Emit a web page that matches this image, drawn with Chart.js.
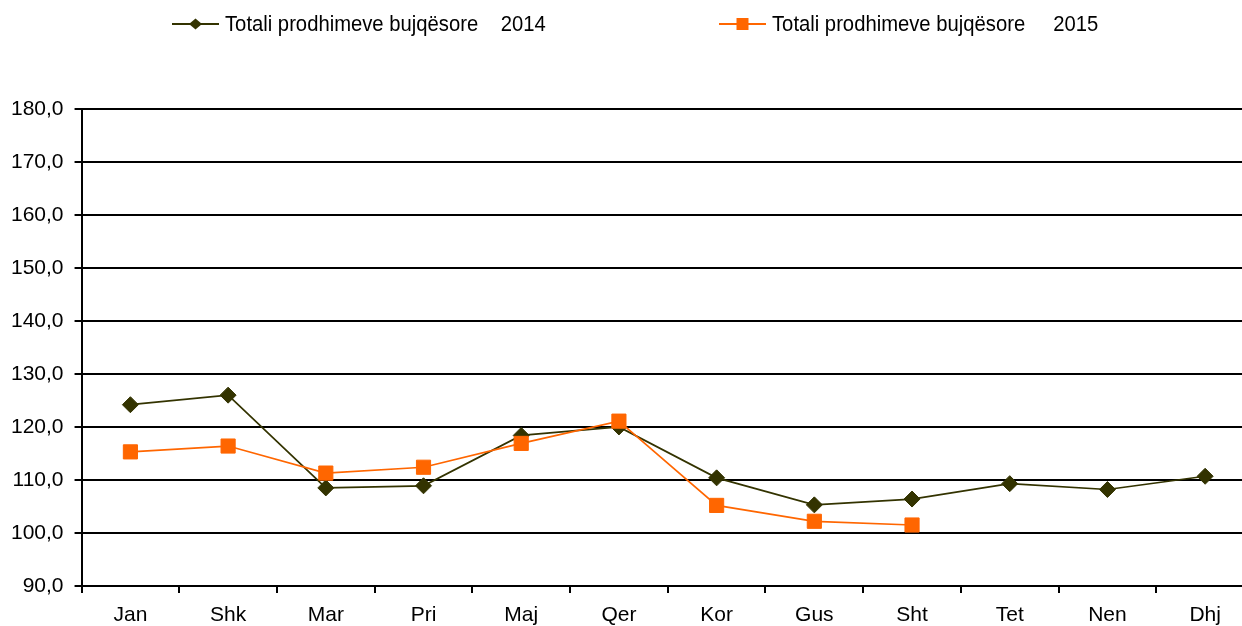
<!DOCTYPE html>
<html>
<head>
<meta charset="utf-8">
<script src="https://cdn.jsdelivr.net/npm/chart.js@4/dist/chart.umd.min.js"></script>
<style>
    html, body {
        margin: 0;
        padding: 0;
        background: #ffffff;
        overflow: hidden;
    }
    /* a bit larger than the window: the original plot is cut at the right and bottom */
    #wrap {
        position: relative;
        width: 1254px;
        height: 637px;
    }
</style>
</head>
<body>
<div id="wrap"><canvas id="chart"></canvas></div>
<script>
    "use strict";

    let months = ['Jan', 'Shk', 'Mar', 'Pri', 'Maj', 'Qer', 'Kor', 'Gus', 'Sht', 'Tet', 'Nen', 'Dhj'];
    let values2014 = [124.2, 126.0, 108.5, 108.9, 118.4, 120.0, 110.4, 105.3, 106.4, 109.3, 108.2, 110.7];
    let values2015 = [115.3, 116.4, 111.3, 112.4, 116.9, 121.1, 105.2, 102.2, 101.5, null, null, null];
    let label2014 = 'Totali prodhimeve bujqësore    2014';
    let label2015 = 'Totali prodhimeve bujqësore     2015';
    let yMin = 90;
    let yMax = 180;
    let yStep = 10;

    let font = 'Liberation Sans, Arial, sans-serif';

    // legend with line + marker, like the original spreadsheet chart
    let lineLegend = {
        id: 'lineLegend',
        afterDraw(chart) {
            let ctx = chart.ctx;
            let starts = [172, 719];
            let y = 24;

            chart.data.datasets.forEach((ds, i) => {
                let x = starts[i];
                ctx.save();
                ctx.strokeStyle = ds.borderColor;
                ctx.lineWidth = 2;
                ctx.beginPath();
                ctx.moveTo(x, y);
                ctx.lineTo(x + 47, y);
                ctx.stroke();

                ctx.fillStyle = ds.pointBackgroundColor;
                let cx = x + 23.5;
                ctx.beginPath();
                if (ds.pointStyle === 'rect') {
                    ctx.rect(cx - 6, y - 6, 12, 12);
                } else {
                    ctx.moveTo(cx, y - 5.5);
                    ctx.lineTo(cx + 6.5, y);
                    ctx.lineTo(cx, y + 5.5);
                    ctx.lineTo(cx - 6.5, y);
                    ctx.closePath();
                }
                ctx.fill();

                // the original text is a bit condensed
                ctx.translate(x + 53, y + 1);
                ctx.scale(0.92, 1);
                ctx.fillStyle = '#000000';
                ctx.font = '22px ' + font;
                ctx.textBaseline = 'middle';
                ctx.textAlign = 'left';
                ctx.fillText(ds.label, 0, 0);
                ctx.restore();
            });
        }
    };

    new Chart(document.getElementById('chart'), {
        type: 'line',
        data: {
            labels: months,
            datasets: [
                {
                    label: label2014,
                    data: values2014,
                    borderColor: '#333300',
                    backgroundColor: '#333300',
                    borderWidth: 1.7,
                    pointStyle: 'rectRot',
                    pointRadius: 8,
                    pointBackgroundColor: '#333300',
                    pointBorderColor: '#333300',
                    pointBorderWidth: 1,
                    tension: 0,
                    order: 1,
                },
                {
                    label: label2015,
                    data: values2015,
                    borderColor: '#ff6600',
                    backgroundColor: '#ff6600',
                    borderWidth: 1.7,
                    pointStyle: 'rect',
                    pointRadius: 10,
                    pointBackgroundColor: '#ff6600',
                    pointBorderColor: '#ff6600',
                    pointBorderWidth: 1,
                    tension: 0,
                    spanGaps: false,
                    order: 0,
                },
            ],
        },
        options: {
            responsive: true,
            maintainAspectRatio: false,
            animation: false,
            layout: {
                autoPadding: false,
                padding: {
                    top: 109,
                    left: 0,
                    right: 0,
                    bottom: 0,
                },
            },
            plugins: {
                legend: {
                    display: false,
                },
                tooltip: {
                    enabled: false,
                },
            },
            scales: {
                x: {
                    offset: true,
                    border: {
                        color: '#000000',
                        width: 2,
                    },
                    grid: {
                        offset: true,
                        drawOnChartArea: false,
                        drawTicks: true,
                        tickLength: 7,
                        color: '#000000',
                        lineWidth: 2,
                    },
                    ticks: {
                        color: '#000000',
                        padding: 11,
                        maxRotation: 0,
                        autoSkip: false,
                        font: {
                            family: font,
                            size: 21,
                            lineHeight: 1.05,
                        },
                    },
                },
                y: {
                    min: yMin,
                    max: yMax,
                    border: {
                        color: '#000000',
                        width: 2,
                    },
                    grid: {
                        color: '#000000',
                        lineWidth: 2,
                        drawTicks: true,
                        tickLength: 7,
                    },
                    ticks: {
                        stepSize: yStep,
                        color: '#000000',
                        padding: 11,
                        font: {
                            family: font,
                            size: 21,
                        },
                        callback: (value) => value.toFixed(1).replace('.', ','),
                    },
                },
            },
        },
        plugins: [lineLegend],
    });
</script>
</body>
</html>
